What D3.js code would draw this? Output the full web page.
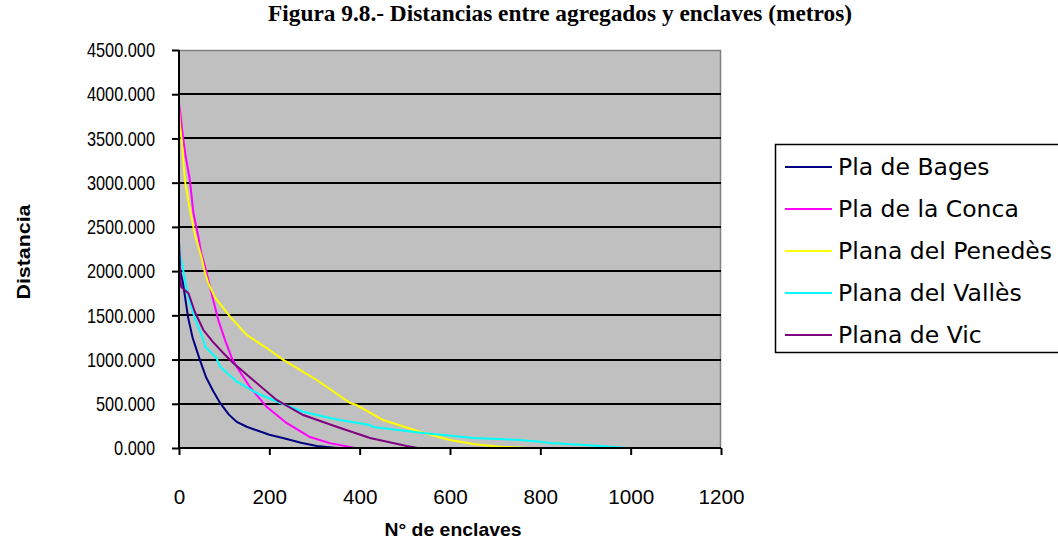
<!DOCTYPE html>
<html>
<head>
<meta charset="utf-8">
<script src="https://cdn.jsdelivr.net/npm/d3@7"></script>
<style>
  html, body { margin: 0; padding: 0; background: #fff; }
  svg { display: block; }
</style>
</head>
<body>
<svg id="chart" width="1058" height="548"></svg>
<script>
// Series: sorted distances (m) against the rank of each enclave
const seriesNames = ["Pla de Bages", "Pla de la Conca", "Plana del Penedès", "Plana del Vallès", "Plana de Vic"];
const seriesColors = ["#000080", "#ff00ff", "#ffff00", "#00ffff", "#800080"];

const plaDeBages = [[0,2200],[1,2100],[3,2000],[9,1860],[20,1480],[30,1250],[46,1000],[60,800],[75,650],[91,510],[110,380],[128,295],[150,240],[172,200],[200,150],[230,113],[270,60],[305,23],[351,0]];
const plaDeLaConca = [[0,4080],[0,3900],[3,3790],[8,3550],[15,3290],[24,3030],[32,2657],[43,2385],[49,2205],[58,2047],[72,1750],[87,1447],[102,1220],[117,1017],[128,916],[157,690],[194,465],[238,283],[290,124],[334,55],[390,0]];
const planaDelPenedes = [[0,3850],[2,3650],[6,3480],[13,3030],[24,2700],[35,2420],[50,2150],[57,1993],[65,1860],[80,1700],[113,1485],[150,1278],[194,1130],[230,1000],[305,769],[379,509],[393,486],[452,316],[533,184],[600,90],[651,45],[711,15],[770,0]];
const planaDelValles = [[0,2620],[0,2320],[2,2200],[6,2100],[21,1696],[35,1470],[54,1221],[58,1145],[83,1017],[91,919],[128,750],[172,622],[224,509],[275,410],[334,340],[356,316],[423,260],[430,237],[540,170],[651,113],[755,90],[799,71],[821,56],[925,26],[996,0]];
const planaDeVic = [[0,2340],[2,2100],[3,1900],[5,1820],[21,1750],[35,1540],[54,1334],[75,1200],[98,1074],[120,961],[164,769],[216,543],[275,373],[349,241],[423,113],[504,23],[529,0]];

const seriesData = [plaDeBages, plaDeLaConca, planaDelPenedes, planaDelValles, planaDeVic];

const xTicks = [0, 200, 400, 600, 800, 1000, 1200];
const yTicks = [0, 500, 1000, 1500, 2000, 2500, 3000, 3500, 4000, 4500];

const titleText = "Figura 9.8.- Distancias entre agregados y enclaves (metros)";
const xTitle = "N° de enclaves";
const yTitle = "Distancia";

const svg = d3.select("#chart");
const plotLeft = 179, plotRight = 721, plotTop = 50, plotBottom = 448;

const x = d3.scaleLinear().domain([0, 1200]).range([plotLeft, plotRight]);
const y = d3.scaleLinear().domain([0, 4500]).range([plotBottom, plotTop]);

const sans = "'Liberation Sans', Arial, sans-serif";
const yFmt = d3.format(".3f");
const xFmt = d3.format("d");

// Title
svg.append("text")
  .attr("x", 560).attr("y", 21)
  .attr("text-anchor", "middle")
  .attr("font-family", "'Liberation Serif', 'Times New Roman', serif")
  .attr("font-weight", "bold")
  .attr("font-size", 23)
  .attr("textLength", 584).attr("lengthAdjust", "spacingAndGlyphs")
  .text(titleText);

// Plot area
svg.append("rect")
  .attr("x", plotLeft).attr("y", plotTop)
  .attr("width", plotRight - plotLeft).attr("height", plotBottom - plotTop)
  .attr("fill", "#c0c0c0");

// Frame on the top and right
svg.append("path")
  .attr("d", `M${plotLeft},${plotTop + 0.5}H${plotRight - 0.5}V${plotBottom}`)
  .attr("fill", "none").attr("stroke", "#808080").attr("stroke-width", 1.5);

// Horizontal gridlines
svg.append("g").selectAll("line")
  .data(yTicks.filter(t => t > 0 && t < 4500))
  .join("line")
  .attr("x1", plotLeft).attr("x2", plotRight)
  .attr("y1", d => Math.round(y(d))).attr("y2", d => Math.round(y(d)))
  .attr("stroke", "#000").attr("stroke-width", 2);

// Series lines
const line = d3.line().x(d => x(d[0])).y(d => y(d[1]));
svg.append("g").selectAll("path")
  .data(seriesData)
  .join("path")
  .attr("d", line)
  .attr("fill", "none")
  .attr("stroke", (d, i) => seriesColors[i])
  .attr("stroke-width", 2)
  .attr("stroke-linejoin", "miter");

// Y axis (narrow digits: each label compressed to a fixed advance per glyph)
const yAxis = d3.axisLeft(y).tickValues(yTicks).tickSize(7).tickFormat(yFmt);
const gy = svg.append("g").attr("transform", `translate(${plotLeft},0)`).call(yAxis);
gy.select(".domain").attr("stroke", "#000").attr("stroke-width", 2).attr("d", `M0,${plotTop}V${plotBottom}`);
gy.selectAll(".tick line").attr("stroke", "#000").attr("stroke-width", 2);
gy.selectAll(".tick text")
  .attr("x", -24)
  .attr("font-family", sans).attr("font-size", 21).attr("fill", "#000")
  .attr("textLength", d => (yFmt(d).length - 1) * 9.05 + 4.7)
  .attr("lengthAdjust", "spacingAndGlyphs");

// X axis
const xAxis = d3.axisBottom(x).tickValues(xTicks).tickSize(7).tickFormat(xFmt);
const gx = svg.append("g").attr("transform", `translate(0,${plotBottom})`).call(xAxis);
gx.select(".domain").attr("stroke", "#000").attr("stroke-width", 2).attr("d", `M${plotLeft},0H${plotRight}`);
gx.selectAll(".tick line").attr("stroke", "#000").attr("stroke-width", 2);
gx.selectAll(".tick text")
  .attr("y", 41)
  .attr("font-family", sans).attr("font-size", 21).attr("fill", "#000")
  .attr("textLength", d => xFmt(d).length * 11.5)
  .attr("lengthAdjust", "spacingAndGlyphs");

// Axis titles
svg.append("text")
  .attr("x", 453).attr("y", 536)
  .attr("text-anchor", "middle")
  .attr("font-family", sans)
  .attr("font-weight", "bold").attr("font-size", 19)
  .attr("textLength", 137).attr("lengthAdjust", "spacingAndGlyphs")
  .text(xTitle);

svg.append("text")
  .attr("transform", "translate(30,252) rotate(-90)")
  .attr("text-anchor", "middle")
  .attr("font-family", sans)
  .attr("font-weight", "bold").attr("font-size", 19)
  .attr("textLength", 95).attr("lengthAdjust", "spacingAndGlyphs")
  .text(yTitle);

// Legend
const legend = svg.append("g");
legend.append("rect")
  .attr("x", 775.5).attr("y", 144.5)
  .attr("width", 300).attr("height", 208)
  .attr("fill", "#fff").attr("stroke", "#000").attr("stroke-width", 1.5);

const rows = legend.selectAll("g.row")
  .data(seriesNames)
  .join("g")
  .attr("class", "row")
  .attr("transform", (d, i) => `translate(0,${167 + i * 42})`);
rows.append("line")
  .attr("x1", 785).attr("x2", 832)
  .attr("y1", 0).attr("y2", 0)
  .attr("stroke", (d, i) => seriesColors[i]).attr("stroke-width", 2);
rows.append("text")
  .attr("x", 838).attr("y", 0).attr("dy", "0.36em")
  .attr("font-family", "'DejaVu Sans', Verdana, sans-serif")
  .attr("font-size", 23.5)
  .text(d => d);
</script>
</body>
</html>
